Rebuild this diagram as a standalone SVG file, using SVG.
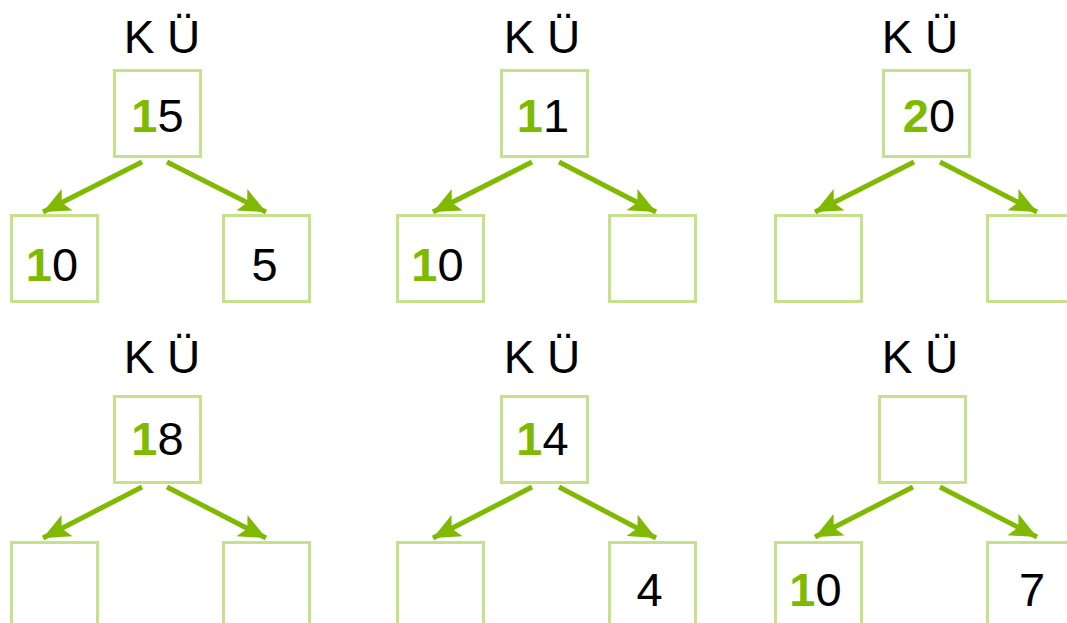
<svg xmlns="http://www.w3.org/2000/svg" width="1067" height="623" viewBox="0 0 1067 623">
<defs>
<style>
.box{fill:#ffffff;stroke:#c5e28a;stroke-width:3}
.lbl{font-family:"Liberation Sans",Arial,sans-serif;font-size:46px;fill:#000000;text-anchor:middle}
.num{font-family:"Liberation Sans",Arial,sans-serif;font-size:47px;fill:#000000;text-anchor:middle}
.hi{fill:#7fba00;font-weight:bold}
.edge{stroke:#7fba00;stroke-width:5;fill:none;marker-end:url(#arr)}
</style>
<marker id="arr" markerUnits="userSpaceOnUse" markerWidth="30" markerHeight="26" viewBox="0 -13 30 26" refX="27" refY="0" orient="auto">
<path d="M0,-12 L27,0 L0,12 L6,0 Z" fill="#7fba00"/>
</marker>
</defs>
<rect width="1067" height="623" fill="#ffffff"/>

<g id="connectors">
<line class="edge" x1="142" y1="162" x2="43" y2="212"/>
<line class="edge" x1="167" y1="162" x2="266" y2="212"/>
<line class="edge" x1="532" y1="162" x2="433" y2="212"/>
<line class="edge" x1="559" y1="162" x2="656" y2="212"/>
<line class="edge" x1="914" y1="162" x2="815" y2="212"/>
<line class="edge" x1="940" y1="162" x2="1037" y2="212"/>
<line class="edge" x1="142" y1="487" x2="43" y2="538"/>
<line class="edge" x1="167" y1="487" x2="266" y2="538"/>
<line class="edge" x1="532" y1="487" x2="433" y2="538"/>
<line class="edge" x1="559" y1="487" x2="656" y2="538"/>
<line class="edge" x1="913" y1="487" x2="815" y2="537"/>
<line class="edge" x1="940" y1="487" x2="1037" y2="537"/>
</g>

<g id="tree1">
<text class="lbl" x="162" y="53">K Ü</text>
<g id="t1-root"><rect class="box" x="114.5" y="70.5" width="86" height="86"/><text class="num" x="157.5" y="132"><tspan class="hi">1</tspan>5</text></g>
<g id="t1-left"><rect class="box" x="11.5" y="215.5" width="86" height="86"/><text class="num" x="52" y="281"><tspan class="hi">1</tspan>0</text></g>
<g id="t1-right"><rect class="box" x="223.5" y="215.5" width="86" height="86"/><text class="num" x="264.5" y="281">5</text></g>
</g>

<g id="tree2">
<text class="lbl" x="542" y="53">K Ü</text>
<g id="t2-root"><rect class="box" x="501.5" y="70.5" width="86" height="86"/><text class="num" x="543" y="132"><tspan class="hi">1</tspan>1</text></g>
<g id="t2-left"><rect class="box" x="397.5" y="215.5" width="86" height="86"/><text class="num" x="437.5" y="281"><tspan class="hi">1</tspan>0</text></g>
<g id="t2-right"><rect class="box" x="609.5" y="215.5" width="86" height="86"/></g>
</g>

<g id="tree3">
<text class="lbl" x="920" y="53">K Ü</text>
<g id="t3-root"><rect class="box" x="883.5" y="70.5" width="86" height="86"/><text class="num" x="929" y="132"><tspan class="hi">2</tspan>0</text></g>
<g id="t3-left"><rect class="box" x="775.5" y="215.5" width="86" height="86"/></g>
<g id="t3-right"><rect class="box" x="987.5" y="215.5" width="86" height="86"/></g>
</g>

<g id="tree4">
<text class="lbl" x="162" y="373">K Ü</text>
<g id="t4-root"><rect class="box" x="114.5" y="396.5" width="86" height="86"/><text class="num" x="157.5" y="455"><tspan class="hi">1</tspan>8</text></g>
<g id="t4-left"><rect class="box" x="11.5" y="542.5" width="86" height="86"/></g>
<g id="t4-right"><rect class="box" x="223.5" y="542.5" width="86" height="86"/></g>
</g>

<g id="tree5">
<text class="lbl" x="542" y="373">K Ü</text>
<g id="t5-root"><rect class="box" x="501.5" y="396.5" width="86" height="86"/><text class="num" x="542.5" y="455"><tspan class="hi">1</tspan>4</text></g>
<g id="t5-left"><rect class="box" x="397.5" y="542.5" width="86" height="86"/></g>
<g id="t5-right"><rect class="box" x="609.5" y="542.5" width="86" height="86"/><text class="num" x="649.5" y="606">4</text></g>
</g>

<g id="tree6">
<text class="lbl" x="920" y="373">K Ü</text>
<g id="t6-root"><rect class="box" x="879.5" y="396.5" width="86" height="86"/></g>
<g id="t6-left"><rect class="box" x="775.5" y="542.5" width="86" height="86"/><text class="num" x="815.5" y="606"><tspan class="hi">1</tspan>0</text></g>
<g id="t6-right"><rect class="box" x="987.5" y="542.5" width="86" height="86"/><text class="num" x="1032" y="606">7</text></g>
</g>
</svg>
